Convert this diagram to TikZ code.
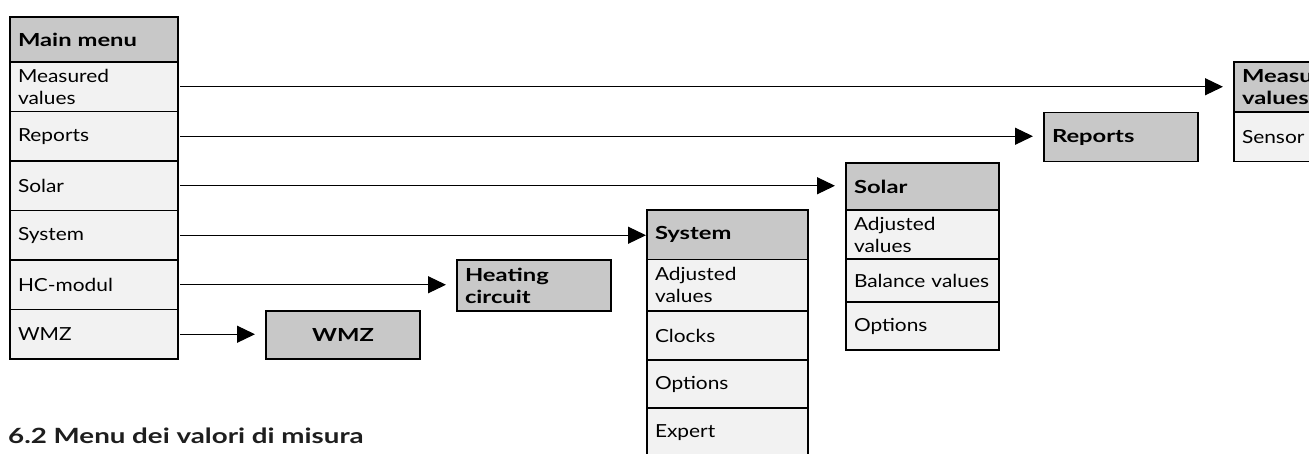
\documentclass[tikz,border=0pt]{standalone}
\usepackage{fontspec}
\setmainfont{Lato}
\newfontfamily\cellfont{Lato}[FakeStretch=1.16]
\newfontfamily\headfont{Lato}[FakeStretch=1.32]
\usetikzlibrary{arrows.meta}
\definecolor{headgray}{RGB}{200, 200, 200}
\definecolor{rowgray}{RGB}{242, 242, 242}
\definecolor{titleink}{RGB}{30, 30, 30}

\tikzset{
    cell/.style    = {draw, line width=1.8pt, fill=rowgray, anchor=north west, outer sep=0pt,
                      align=left, inner xsep=8pt, inner ysep=2pt, font=\cellfont\fontsize{18}{22}\selectfont},
    head/.style    = {cell, fill=headgray, font=\headfont\bfseries\fontsize{18}{22}\selectfont},
    colmain/.style = {minimum width=168pt, text width=152pt},
    colmeas/.style = {minimum width=170pt, text width=154pt},
    colsys/.style  = {minimum width=161pt, text width=145pt},
    colsol/.style  = {minimum width=153pt, text width=137pt},
    colbox/.style  = {minimum width=154pt, text width=138pt},
    link/.style    = {-{Triangle[length=18pt, width=17pt]}, line width=1.2pt, shorten <=2pt, shorten >=11pt}
}

\begin{document}
\begin{tikzpicture}[x=1pt, y=-1pt]
        \clip (0,0) rectangle (1309,453);
        % main menu column
        \node[head, colmain, minimum height=45pt]   (mm-head) at ( 10, 17.0) {Main menu};
        \node[cell, colmain, minimum height=49.5pt] (mm-meas) at ( 10, 62.0) {Measured\\values};
        \node[cell, colmain, minimum height=49.5pt] (mm-rep)  at ( 10,111.5) {Reports};
        \node[cell, colmain, minimum height=49.5pt] (mm-sol)  at ( 10,161.0) {Solar};
        \node[cell, colmain, minimum height=49.5pt] (mm-sys)  at ( 10,210.5) {System};
        \node[cell, colmain, minimum height=49.5pt] (mm-hc)   at ( 10,260.0) {HC-modul};
        \node[cell, colmain, minimum height=49.5pt] (mm-wmz)  at ( 10,309.5) {WMZ};
        % sub menus
        \node[head, colbox, minimum height=48pt, align=center] (wmz-head) at ( 266,311.0) {WMZ};
        \node[head, colbox, minimum height=51pt]   (hc-head)  at ( 457,260.0) {Heating\\circuit};
        \node[head, colsys, minimum height=49.5pt] (sys-head) at ( 647,210.0) {System};
        \node[cell, colsys, minimum height=51.5pt] (sys-adj)  at ( 647,259.5) {Adjusted\\values};
        \node[cell, colsys, minimum height=49pt]   (sys-clk)  at ( 647,311.0) {Clocks};
        \node[cell, colsys, minimum height=48pt]   (sys-opt)  at ( 647,360.0) {Options};
        \node[cell, colsys, minimum height=49pt]   (sys-exp)  at ( 647,408.0) {Expert};
        \node[head, colsol, minimum height=47pt]   (sol-head) at ( 846,163.0) {Solar};
        \node[cell, colsol, minimum height=49pt]   (sol-adj)  at ( 846,210.0) {Adjusted\\values};
        \node[cell, colsol, minimum height=43pt]   (sol-bal)  at ( 846,259.0) {Balance values};
        \node[cell, colsol, minimum height=48pt]   (sol-opt)  at ( 846,302.0) {Options};
        \node[head, colbox, minimum height=49pt]   (rep-head) at (1044,112.5) {Reports};
        \node[head, colmeas, minimum height=50pt]  (mv-head)  at (1234, 62.0) {Measured\\values};
        \node[cell, colmeas, minimum height=49.5pt](mv-sens)  at (1234,112.0) {Sensor};
        % arrows
        \draw[link] (mm-meas.east) -- (mm-meas.east -| mv-head.west);
        \draw[link] (mm-rep.east)  -- (mm-rep.east  -| rep-head.west);
        \draw[link] (mm-sol.east)  -- (mm-sol.east  -| sol-head.west);
        \draw[link, shorten >=1pt] (mm-sys.east) -- (mm-sys.east -| sys-head.west);
        \draw[link] (mm-hc.east)   -- (mm-hc.east   -| hc-head.west);
        \draw[link] (mm-wmz.east)  -- (mm-wmz.east  -| wmz-head.west);
        \node[anchor=base west, inner sep=0pt, text=titleink, font=\headfont\bfseries\fontsize{21}{25}\selectfont]
             (title) at (8,443) {6.2 Menu dei valori di misura};
\end{tikzpicture}
\end{document}
